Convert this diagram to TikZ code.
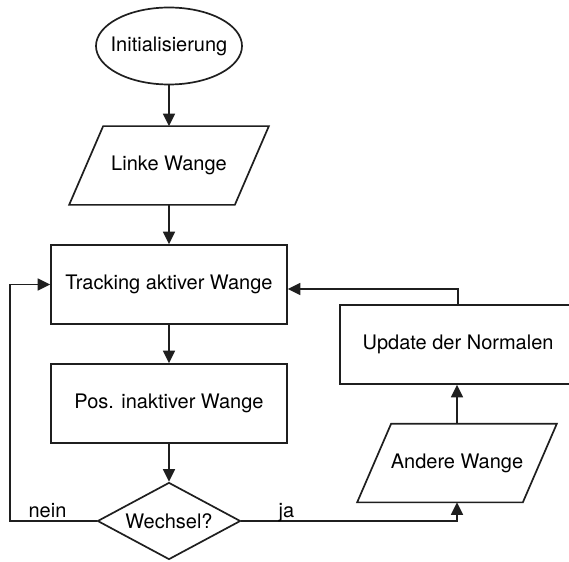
\documentclass[tikz,border=0pt]{standalone}
\usepackage{fontspec}
\setmainfont{TeX Gyre Heros}
\usetikzlibrary{shapes.geometric,arrows.meta,calc}
\begin{document}
\begin{tikzpicture}[x=1pt,y=-1pt, line width=1.7pt, color=black!88,
  every node/.style={font=\fontsize{20}{24}\selectfont, text=black},
  box/.style={draw, rectangle, minimum width=236pt, minimum height=79pt, inner sep=0pt},
  iobox/.style={rectangle, minimum width=164pt, minimum height=77pt, inner sep=0pt},
  startbox/.style={draw, ellipse, minimum width=146pt, minimum height=77pt, inner sep=0pt},
  decbox/.style={draw, diamond, aspect=1.86, minimum width=143pt, minimum height=77pt, inner sep=0pt},
  arr/.style={-{Triangle[length=12.5pt,width=12pt]}},
  lbl/.style={anchor=base, inner sep=0pt}]
\useasboundingbox (0,0) rectangle (569,561);

\node[startbox] (init) at (169,46) {\makebox[0pt]{Initialisierung}};
\node[iobox] (lw) at (169,165.5) {Linke Wange};
\draw ($(lw.north west)+(17,0)$) -- ($(lw.north east)+(17,0)$) -- ($(lw.south east)+(-17,0)$) -- ($(lw.south west)+(-17,0)$) -- cycle;
\node[box] (track) at (169,284.5) {Tracking aktiver Wange};
\node[box] (pos) at (169,403.5) {Pos. inaktiver Wange};
\node[decbox] (dec) at (169,521) {Wechsel?};
\node[box] (upd) at (458,344.5) {Update der Normalen};
\node[iobox] (aw) at (457,463) {Andere Wange};
\draw ($(aw.north west)+(17,0)$) -- ($(aw.north east)+(17,0)$) -- ($(aw.south east)+(-17,0)$) -- ($(aw.south west)+(-17,0)$) -- cycle;

\coordinate (nl) at (10,521);
\coordinate (fb) at (458,289);

\draw[arr] (init.south) -- (lw.north);
\draw[arr] (lw.south) -- (track.north);
\draw[arr] (track.south) -- (pos.north);
\draw[arr] (pos.south) -- (dec.north);
\draw[arr] (dec.west) -- (nl) |- (track.west);
\draw[arr] (dec.east) -| (aw.south);
\draw[arr] (aw.north) -- (aw.north |- upd.south);
\draw[arr] (upd.north) -- (fb) -- (fb -| track.east);

\node[lbl] (nein) at (47.5,517) {nein};
\node[lbl] (ja) at (286.5,517) {ja};
\end{tikzpicture}
\end{document}
